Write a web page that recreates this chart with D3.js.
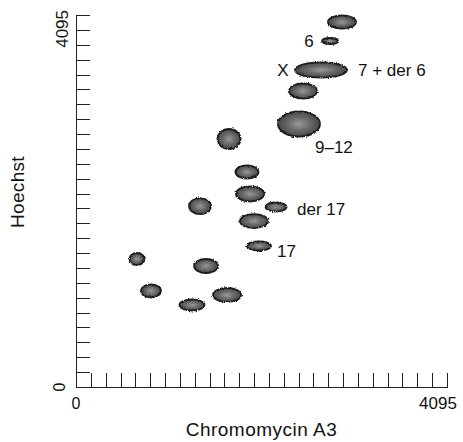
<!DOCTYPE html>
<html>
<head>
<meta charset="utf-8">
<script src="https://cdn.jsdelivr.net/npm/d3@7"></script>
<style>
  body { margin: 0; background: #fff; }
  svg text { font-family: Futura, "Century Gothic", "Liberation Sans", Arial, sans-serif; fill: #111; }
  .axis path, .axis line { stroke: #222; shape-rendering: crispEdges; }
</style>
</head>
<body>
<div id="content"></div>
<script>
// spot centres (channel units, 0 - 4095)
var chromomycin = [2936, 2804, 2704, 2506, 2461, 1689, 1887, 1921, 1369, 2208, 1965, 2020, 673, 1435, 828, 1667, 1280];
var hoechst     = [4018, 3809, 3490, 3258, 2895, 2730, 2367, 2125, 1992, 1981, 1827, 1552, 1409, 1332, 1057, 1013, 903];
// spot spread (half width / half height, same units)
var spreadX = [155, 88, 287, 155, 232, 127, 127, 155, 121, 116, 155, 132, 83, 132, 110, 155, 138];
var spreadY = [72, 33, 83, 83, 138, 110, 72, 83, 88, 50, 77, 50, 66, 77, 72, 77, 61];

// chromosome annotations
var labelText = ["6", "X", "7 + der 6", "9\u201312", "der 17", "17"];
var labelX    = [2572, 2285, 3113, 2638, 2439, 2219];
var labelY    = [3809, 3490, 3490, 2642, 1959, 1497];
var labelAnchor = ["middle", "middle", "start", "start", "start", "start"];

var axisMax = 4095;
var tickCount = 25;

var margin = {top: 15, right: 16, bottom: 55, left: 76};
var W = 463, H = 442;
var width = W - margin.left - margin.right;
var height = H - margin.top - margin.bottom;

var svg = d3.select("#content").append("svg")
	.attr("width", W).attr("height", H);

var x = d3.scaleLinear().domain([0, axisMax]).range([0, width]);
var y = d3.scaleLinear().domain([0, axisMax]).range([height, 0]);

var ticks = d3.range(tickCount + 1).map(function (i) { return i * axisMax / tickCount; });

var defs = svg.append("defs");
var grad = defs.append("radialGradient").attr("id", "spot");
grad.append("stop").attr("offset", "0%").attr("stop-color", "#9a9a9a");
grad.append("stop").attr("offset", "50%").attr("stop-color", "#6c6c6c");
grad.append("stop").attr("offset", "100%").attr("stop-color", "#474747");

// rough edges
var f = defs.append("filter").attr("id", "rough")
	.attr("x", "-20%").attr("y", "-30%").attr("width", "140%").attr("height", "160%");
f.append("feTurbulence").attr("type", "fractalNoise").attr("baseFrequency", 0.8)
	.attr("numOctaves", 1).attr("seed", 3).attr("result", "n");
f.append("feDisplacementMap").attr("in", "SourceGraphic").attr("in2", "n")
	.attr("scale", 3).attr("xChannelSelector", "R").attr("yChannelSelector", "G");

var g = svg.append("g").attr("transform", "translate(" + margin.left + "," + margin.top + ")");

// axes, ticks point inwards
g.append("g").attr("class", "axis")
	.attr("transform", "translate(0," + height + ")")
	.call(d3.axisBottom(x).tickValues(ticks).tickSizeInner(-14).tickSizeOuter(0).tickFormat(""));

g.append("g").attr("class", "axis")
	.call(d3.axisLeft(y).tickValues(ticks).tickSizeInner(-14).tickSizeOuter(0).tickFormat(""));

// spots
var spots = chromomycin.map(function (c, i) {
	return {x: c, y: hoechst[i], rx: spreadX[i], ry: spreadY[i]};
});

g.selectAll("ellipse.spot")
	.data(spots)
	.enter()
	.append("ellipse")
	.attr("class", "spot")
	.attr("cx", function (d) { return x(d.x); })
	.attr("cy", function (d) { return y(d.y); })
	.attr("rx", function (d) { return x(d.rx) - x(0); })
	.attr("ry", function (d) { return y(0) - y(d.ry); })
	.style("fill", "url(#spot)")
	.style("stroke", "#1e1e1e")
	.style("stroke-width", 1.8)
	.attr("filter", "url(#rough)");

// annotations
g.selectAll("text.lab")
	.data(labelText)
	.enter()
	.append("text")
	.attr("class", "lab")
	.attr("x", function (d, i) { return x(labelX[i]); })
	.attr("y", function (d, i) { return y(labelY[i]); })
	.attr("dy", "0.36em")
	.attr("text-anchor", function (d, i) { return labelAnchor[i]; })
	.style("font-size", "17px")
	.text(function (d) { return d; });

// end labels
g.append("text").attr("x", x(0)).attr("y", height + 22)
	.attr("text-anchor", "middle").style("font-size", "16px").text("0");
g.append("text").attr("x", x(axisMax) - 9).attr("y", height + 22)
	.attr("text-anchor", "middle").style("font-size", "17px").text("4095");
g.append("text").attr("transform", "translate(-11," + y(0) + ") rotate(-90)")
	.attr("text-anchor", "middle").style("font-size", "16px").text("0");
g.append("text").attr("transform", "translate(-8," + (y(axisMax) - 5) + ") rotate(-90)")
	.attr("text-anchor", "end").style("font-size", "17px").text("4095");

// axis titles
g.append("text").attr("x", width / 2).attr("y", height + 49)
	.attr("text-anchor", "middle").style("font-size", "19px").style("letter-spacing", "0.5px")
	.text("Chromomycin A3");
g.append("text").attr("transform", "translate(-52," + (y(0) - 195) + ") rotate(-90)")
	.attr("text-anchor", "middle").style("font-size", "19px").style("letter-spacing", "0.3px")
	.text("Hoechst");
</script>
</body>
</html>
